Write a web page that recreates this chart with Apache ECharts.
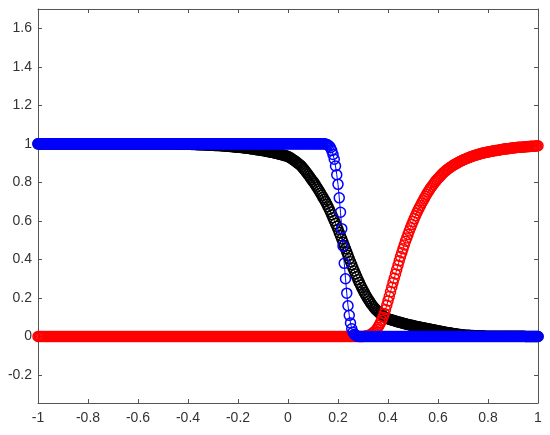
<!DOCTYPE html>
<html>
<head>
<meta charset="utf-8">
<script src="https://cdn.jsdelivr.net/npm/echarts@6/dist/echarts.min.js"></script>
<style>
  html, body { margin: 0; padding: 0; background: #fff; }
  #chart { width: 550px; height: 435px; }
</style>
</head>
<body>
<div id="chart"></div>
<script>
// sample grid: x from -1 to 1, step 0.005 (401 points)
const xStart = -1;
const xStep = 0.005;

const xTicks = [-1, -0.8, -0.6, -0.4, -0.2, 0, 0.2, 0.4, 0.6, 0.8, 1];
const yTicks = [-0.2, 0, 0.2, 0.4, 0.6, 0.8, 1, 1.2, 1.4, 1.6];

// black circles
const blackY = [
  1,1,1,1,1,1,1,1,1,1,1,1,1,1,1,1,1,1,1,1,                                    // -1.0
  1,1,1,1,1,1,1,1,1,1,1,1,1,1,1,1,1,1,1,1,                                    // -0.9
  1,1,1,1,1,1,1,1,1,1,1,1,1,1,1,1,1,1,1,1,                                    // -0.8
  1,1,1,1,1,1,1,1,1,1,1,1,1,1,1,1,1,1,1,1,                                    // -0.7
  1,1,1,1,1,1,1,1,1,1,1,1,1,1,1,1,1,1,1,1,                                    // -0.6
  1,1,1,1,1,1,1,1,1,1,.999,.999,.999,.999,.999,.999,.999,.999,.999,.999,      // -0.5
  .998,.998,.998,.997,.997,.997,.997,.996,.996,.996,.996,.995,.995,.995,.994,.994,.994,.993,.993,.993, // -0.4
  .993,.992,.992,.991,.991,.991,.990,.990,.989,.989,.989,.988,.987,.987,.986,.986,.985,.984,.984,.983, // -0.3
  .983,.982,.981,.981,.980,.979,.978,.978,.977,.976,.975,.974,.973,.972,.971,.970,.969,.968,.967,.966, // -0.2
  .965,.964,.962,.961,.960,.959,.957,.956,.955,.953,.952,.950,.949,.947,.945,.944,.942,.940,.938,.937, // -0.1
  .935,.931,.927,.923,.918,.914,.909,.904,.899,.894,.889,.882,.874,.866,.858,.850,.841,.832,.823,.814, // 0.0
  .805,.796,.786,.776,.766,.755,.744,.733,.722,.711,.700,.687,.674,.660,.646,.632,.617,.602,.587,.572, // 0.1
  .557,.540,.523,.506,.489,.472,.455,.438,.421,.404,.388,.372,.356,.340,.325,.310,.295,.281,.267,.254, // 0.2
  .241,.229,.217,.206,.195,.185,.175,.166,.157,.149,.142,.135,.129,.123,.117,.112,.107,.103,.099,.095, // 0.3
  .092,.090,.088,.086,.084,.082,.080,.078,.076,.075,.073,.071,.069,.067,.066,.064,.062,.061,.059,.058, // 0.4
  .057,.055,.054,.052,.051,.050,.048,.047,.046,.044,.043,.042,.040,.039,.038,.036,.035,.034,.032,.031, // 0.5
  .030,.029,.027,.026,.025,.024,.022,.021,.020,.019,.018,.017,.016,.015,.014,.013,.012,.011,.010,.009, // 0.6
  .008,.008,.007,.007,.006,.006,.005,.005,.005,.004,.004,.004,.004,.003,.003,.003,.003,.003,.002,.002, // 0.7
  .002,.002,.002,.002,.002,.002,.002,.002,.002,.002,.001,.001,.001,.001,.001,.001,.001,.001,.001,.001, // 0.8
  .001,.001,.001,.001,.001,.001,.001,.001,.001,.001,0,0,0,0,0,0,0,0,0,0,      // 0.9
  0                                                                           // 1.0
];

// red circles
const redY = [
  0,0,0,0,0,0,0,0,0,0,0,0,0,0,0,0,0,0,0,0,   // -1.0
  0,0,0,0,0,0,0,0,0,0,0,0,0,0,0,0,0,0,0,0,   // -0.9
  0,0,0,0,0,0,0,0,0,0,0,0,0,0,0,0,0,0,0,0,   // -0.8
  0,0,0,0,0,0,0,0,0,0,0,0,0,0,0,0,0,0,0,0,   // -0.7
  0,0,0,0,0,0,0,0,0,0,0,0,0,0,0,0,0,0,0,0,   // -0.6
  0,0,0,0,0,0,0,0,0,0,0,0,0,0,0,0,0,0,0,0,   // -0.5
  0,0,0,0,0,0,0,0,0,0,0,0,0,0,0,0,0,0,0,0,   // -0.4
  0,0,0,0,0,0,0,0,0,0,0,0,0,0,0,0,0,0,0,0,   // -0.3
  0,0,0,0,0,0,0,0,0,0,0,0,0,0,0,0,0,0,0,0,   // -0.2
  0,0,0,0,0,0,0,0,0,0,0,0,0,0,0,0,0,0,0,0,   // -0.1
  0,0,0,0,0,0,0,0,0,0,0,0,0,0,0,0,0,0,0,0,   // 0.0
  0,0,0,0,0,0,0,0,0,0,0,0,0,0,0,0,0,0,0,0,   // 0.1
  0,0,0,0,0,0,0,0,0,0,0,0,0,0,0,0,0,0,0,0,   // 0.2
  0,.001,.002,.003,.005,.007,.010,.014,.018,.024,.030,.038,.048,.059,.072,.085,.100,.119,.140,.162, // 0.3
  .185,.208,.232,.256,.280,.302,.325,.348,.370,.393,.415,.435,.455,.475,.495,.512,.530,.548,.565,.581, // 0.4
  .597,.612,.627,.641,.655,.668,.680,.693,.705,.717,.728,.739,.750,.760,.770,.779,.788,.797,.805,.813, // 0.5
  .820,.827,.834,.841,.848,.854,.859,.865,.870,.875,.879,.884,.888,.892,.896,.899,.903,.906,.910,.913, // 0.6
  .916,.919,.922,.924,.927,.930,.932,.935,.937,.939,.941,.943,.945,.947,.949,.951,.952,.954,.955,.957, // 0.7
  .958,.959,.961,.962,.963,.964,.965,.966,.967,.968,.970,.971,.972,.973,.974,.974,.975,.976,.977,.978, // 0.8
  .979,.980,.980,.981,.982,.982,.983,.983,.984,.984,.985,.985,.986,.986,.987,.987,.988,.988,.989,.989, // 0.9
  .990                                                                                                 // 1.0
];

// blue circles with line
const blueY = [
  1,1,1,1,1,1,1,1,1,1,1,1,1,1,1,1,1,1,1,1,   // -1.0
  1,1,1,1,1,1,1,1,1,1,1,1,1,1,1,1,1,1,1,1,   // -0.9
  1,1,1,1,1,1,1,1,1,1,1,1,1,1,1,1,1,1,1,1,   // -0.8
  1,1,1,1,1,1,1,1,1,1,1,1,1,1,1,1,1,1,1,1,   // -0.7
  1,1,1,1,1,1,1,1,1,1,1,1,1,1,1,1,1,1,1,1,   // -0.6
  1,1,1,1,1,1,1,1,1,1,1,1,1,1,1,1,1,1,1,1,   // -0.5
  1,1,1,1,1,1,1,1,1,1,1,1,1,1,1,1,1,1,1,1,   // -0.4
  1,1,1,1,1,1,1,1,1,1,1,1,1,1,1,1,1,1,1,1,   // -0.3
  1,1,1,1,1,1,1,1,1,1,1,1,1,1,1,1,1,1,1,1,   // -0.2
  1,1,1,1,1,1,1,1,1,1,1,1,1,1,1,1,1,1,1,1,   // -0.1
  1,1,1,1,1,1,1,1,1,1,1,1,1,1,1,1,1,1,1,1,   // 0.0
  1,1,1,1,1,1,1,1,1,1,.999,.997,.994,.988,.980,.965,.945,.920,.885,.840,                 // 0.1
  .790,.720,.645,.560,.470,.380,.300,.225,.160,.110,.070,.040,.022,.012,.006,.003,.001,0,0,0, // 0.2
  0,0,0,0,0,0,0,0,0,0,0,0,0,0,0,0,0,0,0,0,   // 0.3
  0,0,0,0,0,0,0,0,0,0,0,0,0,0,0,0,0,0,0,0,   // 0.4
  0,0,0,0,0,0,0,0,0,0,0,0,0,0,0,0,0,0,0,0,   // 0.5
  0,0,0,0,0,0,0,0,0,0,0,0,0,0,0,0,0,0,0,0,   // 0.6
  0,0,0,0,0,0,0,0,0,0,0,0,0,0,0,0,0,0,0,0,   // 0.7
  0,0,0,0,0,0,0,0,0,0,0,0,0,0,0,0,0,0,0,0,   // 0.8
  0,0,0,0,0,0,0,0,0,0,0,0,0,0,0,0,0,0,0,0,   // 0.9
  0                                          // 1.0
];

const chart = echarts.init(document.getElementById('chart'));

function toPairs(ys) {
    return ys.map((v, i) => [xStart + i * xStep, v]);
}

function fmt(v) {
    return String(+v.toFixed(1));
}

function circles(name, color, ys) {
    return {
        name: name,
        type: 'line',
        xAxisIndex: 0,
        yAxisIndex: 0,
        symbol: 'circle',
        symbolSize: 10,
        showSymbol: true,
        itemStyle: {
            color: 'rgba(0,0,0,0)',
            borderColor: color,
            borderWidth: 1.5
        },
        lineStyle: {
            color: color,
            width: 1
        },
        emphasis: { disabled: true },
        data: toPairs(ys)
    };
}

const axisCommon = {
    axisLine: { show: true, onZero: false, lineStyle: { color: '#555', width: 1 } },
    splitLine: { show: false },
    axisTick: { show: true, inside: true, length: 4, lineStyle: { color: '#555' } }
};

const option = {
    animation: false,
    backgroundColor: '#fff',
    grid: { left: 38, right: 12, top: 9, bottom: 32, containLabel: false },
    xAxis: [
        Object.assign({
            type: 'value', position: 'bottom', min: -1, max: 1, interval: 0.2,
            axisLabel: {
                margin: 8, color: '#333', fontSize: 14,
                fontFamily: 'Liberation Sans', formatter: fmt,
                customValues: xTicks
            }
        }, axisCommon),
        Object.assign({
            type: 'value', position: 'top', min: -1, max: 1, interval: 0.2,
            axisLabel: { show: false }
        }, axisCommon)
    ],
    yAxis: [
        Object.assign({}, axisCommon, {
            type: 'value', position: 'left', min: -0.345, max: 1.7,
            axisTick: { show: true, inside: true, length: 4, lineStyle: { color: '#555' }, customValues: yTicks },
            axisLabel: {
                margin: 6, color: '#333', fontSize: 14,
                fontFamily: 'Liberation Sans', formatter: fmt,
                customValues: yTicks
            }
        }),
        Object.assign({}, axisCommon, {
            type: 'value', position: 'right', min: -0.345, max: 1.7,
            axisTick: { show: true, inside: true, length: 4, lineStyle: { color: '#555' }, customValues: yTicks },
            axisLabel: { show: false, customValues: yTicks }
        })
    ],
    series: [
        circles('black', '#000000', blackY),
        circles('red', '#ff0000', redY),
        circles('blue', '#0000ff', blueY)
    ]
};

chart.setOption(option);
</script>
</body>
</html>
